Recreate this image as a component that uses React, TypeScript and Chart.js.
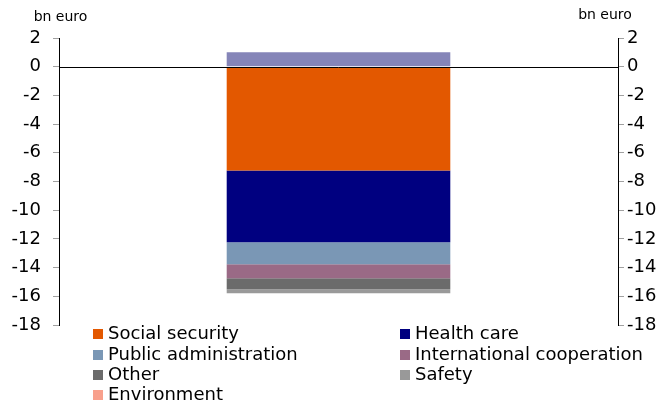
import React, { useEffect, useRef } from "react";
import { Chart, registerables } from "chart.js";

Chart.register(...registerables);

const categories = [""];
const seriesNames = [
  "Social security",
  "Health care",
  "Public administration",
  "International cooperation",
  "Other",
  "Safety",
  "Environment",
  "",
];
const seriesValues = [-7.23, -5.0, -1.54, -0.97, -0.77, -0.28, 0, 1.0];
const seriesColors = [
  "#E35800",
  "#000080",
  "#7A97B5",
  "#9A6A86",
  "#6B6B6B",
  "#999999",
  "#F8A08C",
  "#8585B8",
];
const yMin = -18;
const yMax = 2;
const yStep = 2;
const unitLabel = "bn euro";

const FONT = "'DejaVu Sans', Verdana, sans-serif";

const legendPlugin = {
  id: "gridLegend",
  afterDraw(chart: any) {
    const ctx = chart.ctx;
    const cols = [93, 400];
    const rows = [334, 355, 375, 395];
    ctx.save();
    ctx.font = `18px ${FONT}`;
    ctx.textBaseline = "middle";
    ctx.textAlign = "left";
    let i = 0;
    chart.data.datasets.forEach((ds: any) => {
      if (!ds.label) return;
      const col = cols[i % 2];
      const row = rows[Math.floor(i / 2)];
      ctx.fillStyle = ds.backgroundColor;
      ctx.fillRect(col, row - 5, 10, 10);
      ctx.fillStyle = "#000";
      ctx.fillText(ds.label, col + 15, row + 0.5);
      i++;
    });
    // unit labels
    ctx.font = `14px ${FONT}`;
    ctx.textAlign = "center";
    ctx.fillText(unitLabel, 60.5, 17);
    ctx.fillText(unitLabel, 605, 15);
    ctx.restore();
  },
};

const zeroLinePlugin = {
  id: "zeroLine",
  afterDatasetsDraw(chart: any) {
    const y = chart.scales.y.getPixelForValue(0);
    const { left, right } = chart.chartArea;
    const ctx = chart.ctx;
    ctx.save();
    ctx.strokeStyle = "#000";
    ctx.lineWidth = 1;
    ctx.beginPath();
    ctx.moveTo(left, Math.round(y) + 0.5);
    ctx.lineTo(right, Math.round(y) + 0.5);
    ctx.stroke();
    ctx.restore();
  },
};

export default function App() {
  const ref = useRef<HTMLCanvasElement | null>(null);
  useEffect(() => {
    if (!ref.current) return;
    const tickFont = { family: FONT, size: 18 };
    const chart = new Chart(ref.current, {
      type: "bar",
      data: {
        labels: categories,
        datasets: seriesNames.map((name, i) => ({
          label: name,
          data: [seriesValues[i]],
          backgroundColor: seriesColors[i],
          borderWidth: 0,
          barPercentage: 0.4,
          categoryPercentage: 1,
        })),
      },
      options: {
        animation: false,
        responsive: true,
        maintainAspectRatio: false,
        layout: { padding: { top: 38, bottom: 78, left: 0, right: 0 } },
        plugins: { legend: { display: false }, tooltip: { enabled: false } },
        scales: {
          x: { stacked: true, display: false },
          y: {
            stacked: true,
            min: yMin,
            max: yMax,
            position: "left",
            afterFit: (s: any) => {
              s.width = 59;
            },
            ticks: { stepSize: yStep, color: "#000", font: tickFont, padding: 12 },
            grid: {
              drawOnChartArea: false,
              tickLength: 6,
              tickColor: "#a0a0a0",
            },
            border: { color: "#000", width: 1 },
          },
          y2: {
            min: yMin,
            max: yMax,
            position: "right",
            afterFit: (s: any) => {
              s.width = 53;
            },
            ticks: { stepSize: yStep, color: "#000", font: tickFont, padding: 3 },
            grid: {
              drawOnChartArea: false,
              tickLength: 6,
              tickColor: "#a0a0a0",
            },
            border: { color: "#000", width: 1 },
          },
        },
      },
      plugins: [zeroLinePlugin, legendPlugin],
    });
    return () => chart.destroy();
  }, []);
  return (
    <div style={{ position: "fixed", left: 0, top: 0, width: 671, height: 403, background: "#fff" }}>
      <canvas ref={ref} />
    </div>
  );
}
